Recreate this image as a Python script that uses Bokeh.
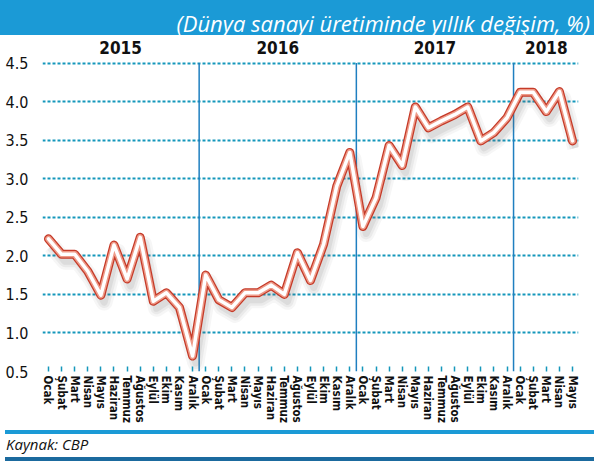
from bokeh.plotting import figure
from bokeh.layouts import column
from bokeh.models import Range1d, FixedTicker, PrintfTickFormatter, Div
from bokeh.core.properties import value
from bokeh.embed import file_html
from bokeh.resources import INLINE

title_text = "(Dünya sanayi üretiminde yıllık değişim, %)"
source_text = "Kaynak: CBP"

months = ["Ocak", "Şubat", "Mart", "Nisan", "Mayıs", "Haziran", "Temmuz",
          "Ağustos", "Eylül", "Ekim", "Kasım", "Aralık"]
years = ["2015", "2016", "2017", "2018"]
months_per_year = [12, 12, 12, 5]

v2015 = [2.22, 2.02, 2.02, 1.80, 1.49, 2.14, 1.70, 2.24, 1.41, 1.52, 1.33, 0.70]
v2016 = [1.75, 1.43, 1.33, 1.52, 1.52, 1.62, 1.50, 2.04, 1.68, 2.15, 2.90, 3.34]
v2017 = [2.38, 2.75, 3.43, 3.17, 3.93, 3.66, 3.75, 3.83, 3.93, 3.49, 3.60, 3.79]
v2018 = [4.12, 4.12, 3.87, 4.13, 3.49]

y_ticks = [0.5, 1.0, 1.5, 2.0, 2.5, 3.0, 3.5, 4.0, 4.5]

values = v2015 + v2016 + v2017 + v2018
labels = []
for n in months_per_year:
    labels += months[:n]
xs = list(range(len(values)))

NARROW = "DejaVu Sans Condensed"
BLUE = "#1b9ad6"
DARK = "#1b6a9e"
TEAL = "#1597bb"
W = 594

# ---------- header (blue band with the subtitle) ----------
head_html = (
    f'<div style="position:absolute;left:-20px;top:0;width:{W + 20}px;height:35px;background:{BLUE};">'
    f'<span style="position:absolute;right:4px;top:10px;line-height:26px;white-space:nowrap;'
    f'font-family:\'Open Sans\';font-style:italic;font-size:22px;color:white;">{title_text}</span>'
    f'</div>'
)
head = Div(text=head_html, width=W, height=35, margin=0,
           styles={"margin": "0", "padding": "0", "background-color": BLUE,
                   "position": "relative", "overflow": "visible"})

# ---------- main ----------
p = figure(width=W, height=390, x_range=Range1d(-0.458, 40.458), y_range=Range1d(0.5, 4.792),
           toolbar_location=None, output_backend="svg", margin=0,
           min_border_left=42, min_border_right=16, min_border_top=5, min_border_bottom=47)
p.outline_line_color = None
p.background_fill_color = "white"
p.border_fill_color = "white"

p.xgrid.visible = False
p.ygrid.ticker = FixedTicker(ticks=y_ticks)
p.ygrid.grid_line_color = TEAL
p.ygrid.grid_line_dash = "3 2"
p.ygrid.grid_line_width = 2

p.yaxis.ticker = FixedTicker(ticks=y_ticks)
p.yaxis.formatter = PrintfTickFormatter(format="%.1f")
p.yaxis.axis_line_color = None
p.yaxis.major_tick_line_color = None
p.yaxis.minor_tick_line_color = None
p.yaxis.major_label_standoff = 8
p.yaxis.major_label_text_font = NARROW
p.yaxis.major_label_text_font_size = "16px"
p.yaxis.major_label_text_color = "#111111"

p.xaxis.ticker = FixedTicker(ticks=xs)
p.xaxis.major_label_overrides = {i: lab for i, lab in zip(xs, labels)}
p.xaxis.major_label_orientation = "vertical"
p.xaxis.axis_line_color = None
p.xaxis.minor_tick_line_color = None
p.xaxis.major_tick_in = 5
p.xaxis.major_tick_out = 0
p.xaxis.major_tick_line_color = TEAL
p.xaxis.major_tick_line_width = 1.5
p.xaxis.major_label_standoff = 4
p.xaxis.major_label_text_font = NARROW
p.xaxis.major_label_text_font_style = "bold"
p.xaxis.major_label_text_font_size = "11.5px"
p.xaxis.major_label_text_color = "#111111"

# year separators and year labels
bounds = []
centers = []
start = 0
for n in months_per_year:
    centers.append(start + (n - 1) / 2)
    start += n
    bounds.append(start - 0.5)
bounds = bounds[:-1]
p.segment(x0=bounds, y0=[y_ticks[0]] * len(bounds), x1=bounds, y1=[y_ticks[-1]] * len(bounds),
          line_color="#1f7fc0", line_width=1.5)
p.text(x=centers, y=[4.70] * len(centers), text=years, text_align="center",
       text_baseline="middle", text_font=value(NARROW), text_font_style="bold",
       text_font_size="17px", text_color="#111111")

# shadow
sx = [x + 0.25 for x in xs]
sy = [v - 0.09 for v in values]
for w, a in [(17, 0.06), (12, 0.08), (7, 0.10)]:
    p.line(sx, sy, line_color="#666666", line_alpha=a, line_width=w, line_join="round")

# main line: red outline, pink, white core
p.line(xs, values, line_color="#c53a28", line_width=9, line_join="round", line_cap="round")
p.line(xs, values, line_color="#ee9a88", line_width=6.5, line_join="round", line_cap="round")
p.line(xs, values, line_color="white", line_width=3.5, line_join="round", line_cap="round")

# ---------- footer (rules and source) ----------
foot_html = (
    f'<div style="position:absolute;left:0;top:0;width:{W}px;height:38px;background:white;">'
    f'<div style="position:absolute;left:5px;width:{W - 5}px;top:5px;height:4px;background:{BLUE};"></div>'
    f'<span style="position:absolute;left:6px;top:9px;line-height:21px;white-space:nowrap;'
    f'font-family:\'Open Sans\';font-style:italic;font-size:15px;color:#111111;">{source_text}</span>'
    f'<div style="position:absolute;left:5px;width:{W - 5}px;top:32px;height:4px;background:{DARK};"></div>'
    f'</div>'
)
foot = Div(text=foot_html, width=W, height=38, margin=0,
           styles={"margin": "0", "padding": "0", "position": "relative", "overflow": "visible"})

layout = column(head, p, foot, spacing=0)
open("out.html", "w").write(file_html(layout, INLINE))
